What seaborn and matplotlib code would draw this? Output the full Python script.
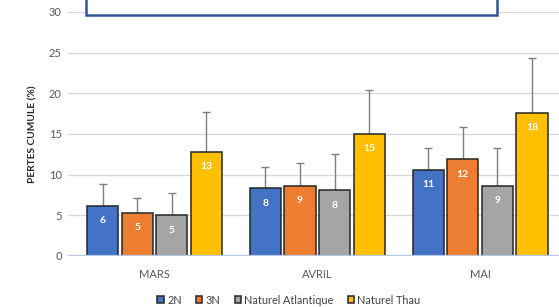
import pandas as pd
import seaborn as sns
import matplotlib.pyplot as plt
from matplotlib.patches import Rectangle

months = ["MARS", "AVRIL", "MAI"]
groups = ["2N", "3N", "Naturel Atlantique", "Naturel Thau"]
# mean cumulative losses (%) per month, one list per group
pertes_2n = [6.2, 8.3, 10.6]
pertes_3n = [5.3, 8.6, 11.9]
pertes_atl = [5.0, 8.1, 8.6]
pertes_thau = [12.8, 15.0, 17.6]
# upper error bar lengths
err_2n = [2.7, 2.7, 2.7]
err_3n = [1.8, 2.8, 3.9]
err_atl = [2.7, 4.5, 4.7]
err_thau = [4.9, 5.4, 6.8]

colors = ["#4472C4", "#ED7D31", "#A5A5A5", "#FFC000"]
values = [pertes_2n, pertes_3n, pertes_atl, pertes_thau]
errors = [err_2n, err_3n, err_atl, err_thau]

rows = []
for g, vals in zip(groups, values):
    for m, v in zip(months, vals):
        rows.append({"mois": m, "lot": g, "pertes": v})
df = pd.DataFrame(rows)

sns.set_style("white")
plt.rcParams["font.family"] = ["Lato", "DejaVu Sans"]

fig = plt.figure(figsize=(5.59, 3.07), dpi=100)
ax = fig.add_axes([68 / 559, 51 / 307, (559 - 68) / 559, 244 / 307])

sns.barplot(data=df, x="mois", y="pertes", hue="lot", order=months,
            hue_order=groups, palette=colors, width=0.85, gap=0.1,
            edgecolor="#262626", linewidth=1.1, saturation=1, ax=ax,
            errorbar=None, zorder=3)

for cont, errs, vals in zip(ax.containers, errors, values):
    xs = [b.get_x() + b.get_width() / 2 for b in cont]
    ax.errorbar(xs, vals, yerr=[[0] * len(vals), errs], fmt="none",
                ecolor="#7F7F7F", elinewidth=1, capsize=3.2, capthick=1,
                zorder=2)
    ax.bar_label(cont, labels=[str(int(v + 0.5)) for v in vals],
                 padding=-14, color="white", fontsize=7.5,
                 fontweight="bold", zorder=4)

ax.set_ylim(0, 30)
ax.set_xlim(-0.531, 2.485)
ax.set_yticks(range(0, 31, 5))
ax.yaxis.grid(True, color="#D9D9D9", linewidth=1)
ax.set_axisbelow(True)
for s in ax.spines.values():
    s.set_visible(False)
ax.axhline(0, color="#B4C7E7", linewidth=1.6, zorder=5)
ax.tick_params(axis="both", length=0, labelsize=8, colors="#595959")
ax.tick_params(axis="x", pad=9)
ax.tick_params(axis="y", pad=4.5)
ax.set_xlabel("")
ax.set_ylabel("PERTES CUMULE (%)", fontsize=7.3, fontweight="bold",
              color="#262626", labelpad=8)

handles, labels = ax.get_legend_handles_labels()
ax.legend(handles, labels, loc="center", bbox_to_anchor=(289 / 559, 7 / 307),
          bbox_transform=fig.transFigure, ncol=4, frameon=False,
          fontsize=7.8, handlelength=0.6, handleheight=0.6, handletextpad=0.3,
          columnspacing=1.3, labelcolor="#404040")

# cropped title box at the top of the picture
fig.patches.append(Rectangle((86 / 559, 292 / 307), (497 - 86) / 559, 0.1,
                             transform=fig.transFigure, facecolor="white",
                             edgecolor="#2F5597", linewidth=1.8, zorder=10))

fig.savefig("out.png", dpi=100)
